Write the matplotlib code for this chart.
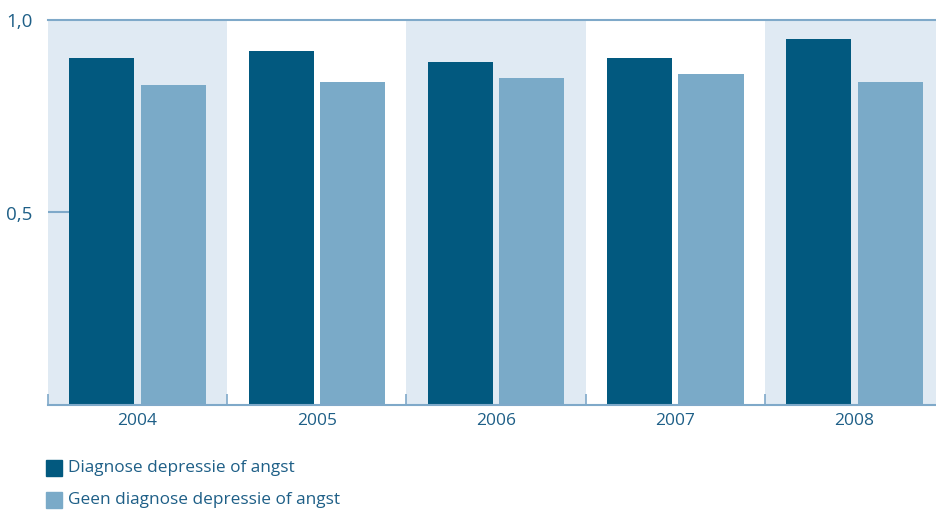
import matplotlib
matplotlib.use("Agg")
import matplotlib.pyplot as plt
from matplotlib.patches import Rectangle
import numpy as np

plt.rcParams['font.family'] = ['Open Sans', 'DejaVu Sans']

years = ["2004", "2005", "2006", "2007", "2008"]
diag = [0.90, 0.92, 0.89, 0.90, 0.95]
geen = [0.83, 0.84, 0.85, 0.86, 0.84]
series_labels = ["Diagnose depressie of angst", "Geen diagnose depressie of angst"]
yticks = [0.5, 1.0]
ytick_labels = ["0,5", "1,0"]

dark = "#02597f"
light = "#7aaac8"
band = "#e0eaf3"
axis_col = "#7fa9c9"
text_col = "#1e5f87"

fig = plt.figure(figsize=(9.37, 5.11), dpi=100)
ax = fig.add_axes([48/937, 106/511, 889/937, 385/511])

x = np.arange(len(years))
for i in x:
    if i % 2 == 0:
        ax.axvspan(i - 0.5, i + 0.5, color=band, lw=0, zorder=0)

w = 0.363
off = 0.199
ax.bar(x - off, diag, width=w, color=dark, zorder=2, label=series_labels[0])
ax.bar(x + off, geen, width=w, color=light, zorder=2, label=series_labels[1])

ax.set_xlim(-0.5, 4.46)
ax.set_ylim(0, 1.0)

for s in ["left", "right", "top"]:
    ax.spines[s].set_visible(False)
ax.spines["bottom"].set_color(axis_col)
ax.spines["bottom"].set_linewidth(1.5)
ax.axhline(1.0, color=axis_col, lw=1.5, zorder=3, clip_on=False)

ax.set_yticks(yticks)
ax.set_yticklabels(ytick_labels)
ax.tick_params(axis="y", direction="in", length=15, width=1.5, color=axis_col,
               labelcolor=text_col, labelsize=13.5, pad=11)
ax.yaxis.get_major_ticks()[1].tick1line.set_visible(False)

ax.set_xticks(x)
ax.set_xticklabels(years)
ax.tick_params(axis="x", length=0, labelcolor=text_col, labelsize=12.5, pad=6)
# minor ticks at boundaries
ax.set_xticks(np.arange(-0.5, 4.5, 1.0), minor=True)
ax.tick_params(axis="x", which="minor", direction="in", length=8, width=1.2, color=axis_col)

# legend
fig.patches.append(Rectangle((46/937, (511-476)/511), 16/937, 16/511,
                             transform=fig.transFigure, color=dark))
fig.patches.append(Rectangle((46/937, (511-508)/511), 16/937, 16/511,
                             transform=fig.transFigure, color=light))
fig.text(68/937, (511-468)/511, series_labels[0], color=text_col, fontsize=12.4, va="center")
fig.text(68/937, (511-500)/511, series_labels[1], color=text_col, fontsize=12.4, va="center")

fig.savefig("out.png", dpi=100)
